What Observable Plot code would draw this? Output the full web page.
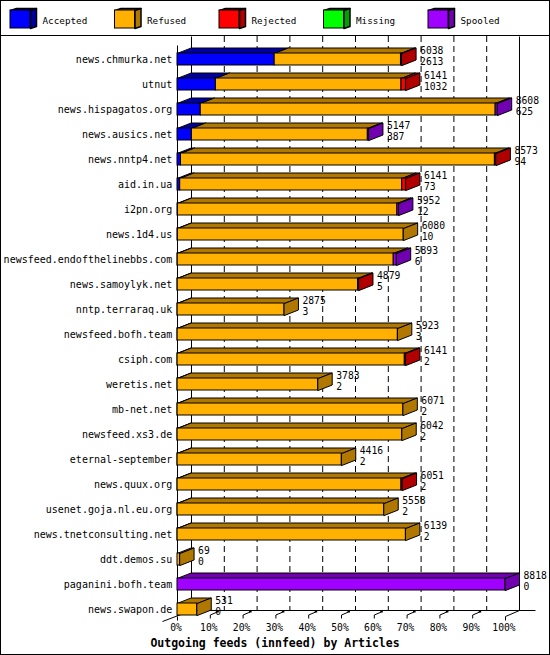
<!DOCTYPE html>
<html><head><meta charset="utf-8">
<script src="https://cdn.jsdelivr.net/npm/d3@7"></script>
<script src="https://cdn.jsdelivr.net/npm/@observablehq/plot@0.6"></script>
<style>
html,body{margin:0;padding:0;background:#fff}
#wrap{position:relative;width:550px;height:655px;overflow:hidden;background:#fff}
#wrap svg{position:absolute;left:0;top:0}
#frame{position:absolute;left:0;top:0;width:550px;height:655px;box-sizing:border-box;border:1px solid #000;pointer-events:none}
#sep{position:absolute;left:0;top:35px;width:550px;height:1px;background:#000}
#title{position:absolute;left:0;width:550px;text-align:center;font:bold 11.5px "DejaVu Sans Mono",monospace;line-height:11.5px;top:637.5px;color:#000}
</style></head><body><div id="wrap"></div>
<script>
// ---- data ----
const feeds = ["news.chmurka.net","utnut","news.hispagatos.org","news.ausics.net","news.nntp4.net","aid.in.ua","i2pn.org","news.1d4.us","newsfeed.endofthelinebbs.com","news.samoylyk.net","nntp.terraraq.uk","newsfeed.bofh.team","csiph.com","weretis.net","mb-net.net","newsfeed.xs3.de","eternal-september","news.quux.org","usenet.goja.nl.eu.org","news.tnetconsulting.net","ddt.demos.su","paganini.bofh.team","news.swapon.de"];
const totals   = [6038,6141,8608,5147,8573,6141,5952,6080,5893,4879,2875,5923,6141,3783,6071,6042,4416,6051,5558,6139,69,8818,531];
const accepted = [2613,1032,625,387,94,73,12,10,6,5,3,3,2,2,2,2,2,2,2,2,0,0,0];
const rejected = [30,120,0,0,40,100,0,0,0,25,0,0,30,0,0,0,0,30,0,0,0,0,0];
const missing  = [0,0,0,0,0,0,0,0,0,0,0,0,0,0,0,0,0,0,0,0,0,0,0];
const spooled  = [0,0,55,30,0,0,40,0,80,0,0,0,0,0,0,0,0,0,0,0,0,8818,0];
const refused  = totals.map((t,i)=>t-accepted[i]-rejected[i]-missing[i]-spooled[i]);
const seriesNames = ["Accepted","Refused","Rejected","Missing","Spooled"];
const xTicks = [0,10,20,30,40,50,60,70,80,90,100];
// ---- styles ----
const frontColors = ["#0000ff","#ffb000","#ff0000","#00ff00","#a000ff"];
const darkColors  = ["#0000a0","#b07800","#b00000","#00a000","#7000b0"];

// ---- layout ----
const X0=177, X1=505, Y0=59, ROW=25;
const PXX=(X1-X0)/100;
const ux = p => p/PXX, uy = p => p/ROW;        // pixel lengths -> data units
const fx = p => (p-X0)/PXX, fy = p => (p-Y0)/ROW; // pixel positions -> data units
const DX = ux(14), DY = uy(-5.5), HH = uy(6);
const maxT = d3.max(totals);
const values = [accepted, refused, rejected, missing, spooled];

const fronts=[], tops=[], sides=[], ends=[];
feeds.forEach((f,i)=>{
  let c=0, last=null;
  values.forEach((arr,k)=>{
    const v=arr[i]; if(!v) return;
    const a=c/maxT*100, b=(c+v)/maxT*100; c+=v;
    const s={i,k,x1:a,x2:b,fill:frontColors[k],dark:darkColors[k]};
    fronts.push(s); last=s;
    const id=`t${i}-${k}`, yt=i-HH;
    [[a,yt],[b,yt],[b+DX,yt+DY],[a+DX,yt+DY]].forEach(([x,y])=>tops.push({id,x,y,fill:s.dark}));
  });
  if(last){
    const id=`s${i}`, b=last.x2, yt=i-HH, yb=i+HH;
    [[b,yt],[b+DX,yt+DY],[b+DX,yb+DY],[b,yb]].forEach(([x,y])=>sides.push({id,x,y,fill:last.dark}));
  }
  ends.push({i, x: totals[i]/maxT*100 + DX, total: String(totals[i]), acc: String(accepted[i])});
});

const boxLines = [
  {x1:DX, y1:fy(36), x2:DX, y2:fy(610)},
  {x1:0, y1:fy(45), x2:0, y2:fy(615.5)},
  {x1:100+DX, y1:fy(36), x2:100+DX, y2:fy(610)},
  {x1:DX, y1:fy(610), x2:fx(535), y2:fy(610)},
  {x1:fx(162), y1:fy(621), x2:DX, y2:fy(610)},
  {x1:100, y1:fy(616), x2:100+DX, y2:fy(610)}
];
const tickLines = [];
xTicks.forEach(t=>{
  if(t>0 && t<100){
    tickLines.push({x1:t,y1:fy(618),x2:t,y2:fy(614.5)});
    tickLines.push({x1:t,y1:fy(614.5),x2:t+ux(7),y2:fy(611.5)});
  } else {
    tickLines.push({x1:t,y1:fy(616),x2:t,y2:fy(620)});
  }
});
const tickBlocks = xTicks.filter(t=>t>0&&t<100).map(t=>({x1:t+ux(6.5),x2:t+ux(9),y1:fy(610),y2:fy(612.5)}));

const chart = Plot.plot({
  width:550, height:655, margin:0,
  style:{fontFamily:"'DejaVu Sans Mono', monospace", fontSize:"10px", background:"transparent", color:"#000"},
  x:{domain:[0,100], range:[X0,X1], axis:null},
  y:{domain:[0,22], range:[Y0,Y0+22*ROW], axis:null},
  color:{type:"identity"},
  marks:[
    Plot.ruleX(xTicks.filter(t=>t>0&&t<100), {x:t=>t+DX, y1:fy(36), y2:fy(610), stroke:"#000", strokeDasharray:"6,4"}),
    Plot.link(boxLines, {x1:"x1",y1:"y1",x2:"x2",y2:"y2", stroke:"#000"}),
    Plot.link(tickLines, {x1:"x1",y1:"y1",x2:"x2",y2:"y2", stroke:"#000"}),
    Plot.rect(tickBlocks, {x1:"x1",x2:"x2",y1:"y1",y2:"y2", fill:"#000"}),
    Plot.line(tops, {x:"x", y:"y", z:"id", fill:"fill", stroke:"#000", strokeWidth:1, curve:"linear-closed"}),
    Plot.rect(fronts, {x1:"x1", x2:"x2", y1:d=>d.i-HH, y2:d=>d.i+HH, fill:"fill", stroke:"#000", strokeWidth:1}),
    Plot.line(sides, {x:"x", y:"y", z:"id", fill:"fill", stroke:"#000", strokeWidth:1, curve:"linear-closed"}),
    Plot.text(feeds, {x:0, y:(d,i)=>i, text:d=>d, textAnchor:"end", dx:-5.3, fontSize:10, fill:"#000"}),
    Plot.text(ends, {x:"x", y:"i", text:"total", textAnchor:"start", dx:4, dy:-8.2, fontSize:9.7, fill:"#000"}),
    Plot.text(ends, {x:"x", y:"i", text:"acc", textAnchor:"start", dx:4, dy:2.3, fontSize:9.7, fill:"#000"}),
    Plot.text(xTicks, {x:t=>t, y:fy(627.8), text:t=>t+"%", dx:-1.5, fontSize:9.7, fill:"#000"})
  ]
});

// ---- legend ----
const LW = 20/104.5, LD = 6/104.5, LH = 2/18;
const legendItems = seriesNames.map((n,k)=>({k, name:n, fill:frontColors[k], dark:darkColors[k]}));
const lTop=[], lSide=[];
legendItems.forEach(d=>{
  const a=d.k;
  [[a,0],[a+LW,0],[a+LW+LD,-LH],[a+LD,-LH]].forEach(([x,y])=>lTop.push({id:"t"+a,x,y,fill:d.dark}));
  [[a+LW,0],[a+LW+LD,-LH],[a+LW+LD,1-LH],[a+LW,1]].forEach(([x,y])=>lSide.push({id:"s"+a,x,y,fill:d.dark}));
});
const legend = Plot.plot({
  width:550, height:35, margin:0,
  style:{fontFamily:"'DejaVu Sans Mono', monospace", fontSize:"9.3px", background:"#fff", color:"#000"},
  x:{domain:[0,1], range:[10,114.5], axis:null},
  y:{domain:[0,1], range:[10,28], axis:null},
  color:{type:"identity"},
  marks:[
    Plot.line(lTop, {x:"x", y:"y", z:"id", fill:"fill", stroke:"#000", curve:"linear-closed"}),
    Plot.line(lSide, {x:"x", y:"y", z:"id", fill:"fill", stroke:"#000", curve:"linear-closed"}),
    Plot.rect(legendItems, {x1:"k", x2:d=>d.k+LW, y1:0, y2:1, fill:"fill", stroke:"#000"}),
    Plot.text(legendItems, {x:"k", y:0.5+1.3/18, text:"name", textAnchor:"start", dx:32, fontSize:9.3, fill:"#000"})
  ]
});

const wrap = document.getElementById("wrap");
wrap.appendChild(chart);
wrap.appendChild(legend);
const t = document.createElement("div"); t.id="title"; t.textContent="Outgoing feeds (innfeed) by Articles"; wrap.appendChild(t);
const s = document.createElement("div"); s.id="sep"; wrap.appendChild(s);
const fr = document.createElement("div"); fr.id="frame"; wrap.appendChild(fr);
</script></body></html>
